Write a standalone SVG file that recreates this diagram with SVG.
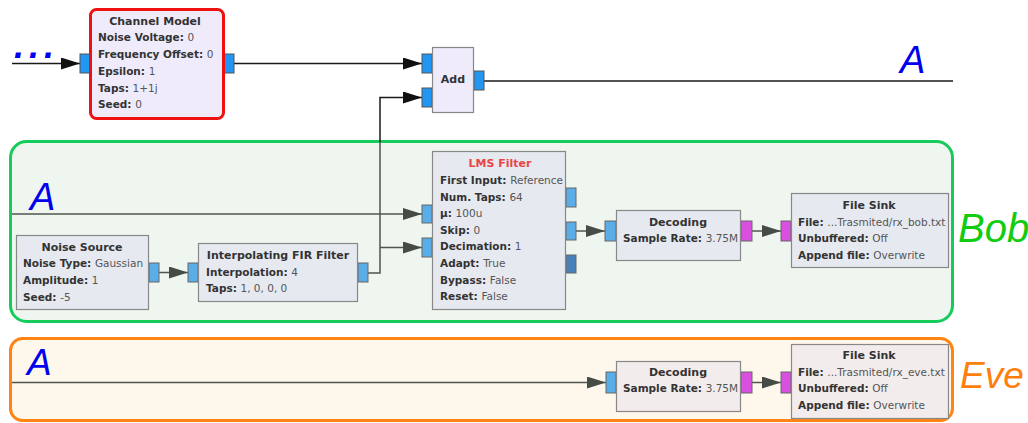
<svg xmlns="http://www.w3.org/2000/svg" width="1028" height="423" viewBox="0 0 1028 423">
<style>
.t{font-family:"DejaVu Sans",sans-serif;font-size:10.5px;font-weight:bold;fill:#333;}
.v{font-weight:normal;fill:#555;}
.ti{text-anchor:middle;font-size:11px;}
.blk{stroke:#888;stroke-width:1.2;}
.top{fill:#efebfb;}
.bob{fill:#e7e9f1;}
.eve{fill:#f3ecec;}
.pb{fill:#2196f3;stroke:#555;stroke-width:1;}
.pl{fill:#5aade6;stroke:#666;stroke-width:1;}
.pm{fill:#d94fe0;stroke:#666;stroke-width:1;}
.pd{fill:#4a80b8;stroke:#666;stroke-width:1;}
.cb{fill:none;stroke:#1a1a1a;stroke-width:1.5;}
.cg{fill:none;stroke:#4f544f;stroke-width:1.5;}
.big{font-family:"Liberation Sans",Arial,sans-serif;font-style:italic;}
</style>
<defs>
<marker id="ab" markerUnits="userSpaceOnUse" markerWidth="19" markerHeight="12" refX="19" refY="6" orient="auto"><path d="M0,0 L19,6 L0,12 z" fill="#111"/></marker>
<marker id="ag" markerUnits="userSpaceOnUse" markerWidth="19" markerHeight="12" refX="19" refY="6" orient="auto"><path d="M0,0 L19,6 L0,12 z" fill="#454b45"/></marker>
</defs>

<g id="bob-group">
<rect x="10.5" y="141.5" width="942" height="180" rx="16" fill="#eff5ef" stroke="#15cc5a" stroke-width="3"/>
<text class="big" x="958" y="242" font-size="40" fill="#11cc11">Bob</text>
</g>
<g id="eve-group">
<rect x="10.5" y="338.5" width="942" height="82" rx="12" fill="#fef7ec" stroke="#ff8414" stroke-width="3"/>
<text class="big" x="960" y="388" font-size="37" fill="#ff7f0e">Eve</text>
</g>

<g id="connectors">
<path class="cb" d="M12,63.5 H80" marker-end="url(#ab)"/>
<path class="cb" d="M234,63.5 H422" marker-end="url(#ab)"/>
<path class="cb" d="M484,81 H953"/>
<path class="cb" d="M380,142 V97.5 H422" marker-end="url(#ab)"/>
<path class="cg" d="M368,273 H380 V142"/>
<path class="cg" d="M380,247.5 H422" marker-end="url(#ag)"/>
<path class="cg" d="M12,214 H422" marker-end="url(#ag)"/>
<path class="cg" d="M159,272.5 H188" marker-end="url(#ag)"/>
<path class="cg" d="M576,231 H605" marker-end="url(#ag)"/>
<path class="cg" d="M752,231 H781" marker-end="url(#ag)"/>
<path class="cg" d="M12,382.5 H606" marker-end="url(#ag)"/>
<path class="cg" d="M752,382.5 H781" marker-end="url(#ag)"/>
</g>

<text class="big" x="14" y="58" font-size="36" font-weight="bold" letter-spacing="5" fill="#0000ee">...</text>
<text class="big" x="900" y="73" font-size="38" fill="#0000ee">A</text>
<text class="big" x="30" y="210" font-size="38" fill="#0000ee">A</text>
<text class="big" x="27" y="375" font-size="37" fill="#0000ee">A</text>

<g id="channel-model">
<rect x="80" y="54" width="10" height="19" class="pb"/>
<rect x="224" y="54" width="10" height="19" class="pb"/>
<rect x="90.5" y="9.5" width="133" height="109" rx="6" fill="#efebfb" stroke="#ee1111" stroke-width="3"/>
<text class="t ti" x="155" y="25">Channel Model</text>
<text class="t" x="98" y="41">Noise Voltage: <tspan class="v">0</tspan></text>
<text class="t" x="98" y="58">Frequency Offset: <tspan class="v">0</tspan></text>
<text class="t" x="98" y="75">Epsilon: <tspan class="v">1</tspan></text>
<text class="t" x="98" y="92">Taps: <tspan class="v">1+1j</tspan></text>
<text class="t" x="98" y="108">Seed: <tspan class="v">0</tspan></text>
</g>

<g id="add">
<rect x="422" y="54" width="10" height="19" class="pb"/>
<rect x="422" y="88" width="10" height="19" class="pb"/>
<rect x="474" y="71" width="10" height="19" class="pb"/>
<rect x="432.5" y="47.5" width="41" height="65" class="blk top"/>
<text class="t ti" x="453" y="83">Add</text>
</g>

<g id="noise-source">
<rect x="149" y="263" width="10" height="19" class="pl"/>
<rect x="16.5" y="235.5" width="132" height="74" class="blk bob"/>
<text class="t ti" x="82" y="251">Noise Source</text>
<text class="t" x="23" y="267">Noise Type: <tspan class="v">Gaussian</tspan></text>
<text class="t" x="23" y="284">Amplitude: <tspan class="v">1</tspan></text>
<text class="t" x="23" y="301">Seed: <tspan class="v">-5</tspan></text>
</g>

<g id="interp-fir">
<rect x="188" y="263" width="10" height="19" class="pl"/>
<rect x="358" y="263" width="10" height="19" class="pl"/>
<rect x="198.5" y="243.5" width="159" height="58" class="blk bob"/>
<text class="t ti" x="278" y="259">Interpolating FIR Filter</text>
<text class="t" x="206" y="276">Interpolation: <tspan class="v">4</tspan></text>
<text class="t" x="206" y="292">Taps: <tspan class="v">1, 0, 0, 0</tspan></text>
</g>

<g id="lms-filter">
<rect x="422" y="205" width="10" height="18" class="pl"/>
<rect x="422" y="238" width="10" height="19" class="pl"/>
<rect x="566" y="188" width="10" height="19" class="pl"/>
<rect x="566" y="222" width="10" height="18" class="pl"/>
<rect x="566" y="255" width="10" height="18" class="pd"/>
<rect x="432.5" y="151.5" width="133" height="158" class="blk bob"/>
<text class="t ti" x="500" y="167" style="fill:#e84545">LMS Filter</text>
<text class="t" x="440" y="184">First Input: <tspan class="v">Reference</tspan></text>
<text class="t" x="440" y="201">Num. Taps: <tspan class="v">64</tspan></text>
<text class="t" x="440" y="217">μ: <tspan class="v">100u</tspan></text>
<text class="t" x="440" y="234">Skip: <tspan class="v">0</tspan></text>
<text class="t" x="440" y="250">Decimation: <tspan class="v">1</tspan></text>
<text class="t" x="440" y="267">Adapt: <tspan class="v">True</tspan></text>
<text class="t" x="440" y="284">Bypass: <tspan class="v">False</tspan></text>
<text class="t" x="440" y="300">Reset: <tspan class="v">False</tspan></text>
</g>

<g id="bob-decoding">
<rect x="605" y="221" width="11" height="20" class="pl"/>
<rect x="741" y="221" width="11" height="20" class="pm"/>
<rect x="616.5" y="210.5" width="124" height="50" class="blk bob"/>
<text class="t ti" x="678" y="226">Decoding</text>
<text class="t" x="623" y="242">Sample Rate: <tspan class="v">3.75M</tspan></text>
</g>

<g id="bob-file-sink">
<rect x="781" y="221" width="10" height="20" class="pm"/>
<rect x="791.5" y="193.5" width="157" height="74" class="blk bob"/>
<text class="t ti" x="869" y="209">File Sink</text>
<text class="t" x="798" y="226">File: <tspan class="v">...Trasmited/rx_bob.txt</tspan></text>
<text class="t" x="798" y="242">Unbuffered: <tspan class="v">Off</tspan></text>
<text class="t" x="798" y="259">Append file: <tspan class="v">Overwrite</tspan></text>
</g>

<g id="eve-decoding">
<rect x="606" y="372" width="10" height="21" class="pl"/>
<rect x="741" y="372" width="11" height="21" class="pm"/>
<rect x="616.5" y="361.5" width="124" height="50" class="blk eve"/>
<text class="t ti" x="678" y="376">Decoding</text>
<text class="t" x="623" y="392">Sample Rate: <tspan class="v">3.75M</tspan></text>
</g>

<g id="eve-file-sink">
<rect x="781" y="372" width="10" height="21" class="pm"/>
<rect x="791.5" y="344.5" width="157" height="74" class="blk eve"/>
<text class="t ti" x="869" y="359">File Sink</text>
<text class="t" x="798" y="376">File: <tspan class="v">...Trasmited/rx_eve.txt</tspan></text>
<text class="t" x="798" y="392">Unbuffered: <tspan class="v">Off</tspan></text>
<text class="t" x="798" y="409">Append file: <tspan class="v">Overwrite</tspan></text>
</g>
</svg>
